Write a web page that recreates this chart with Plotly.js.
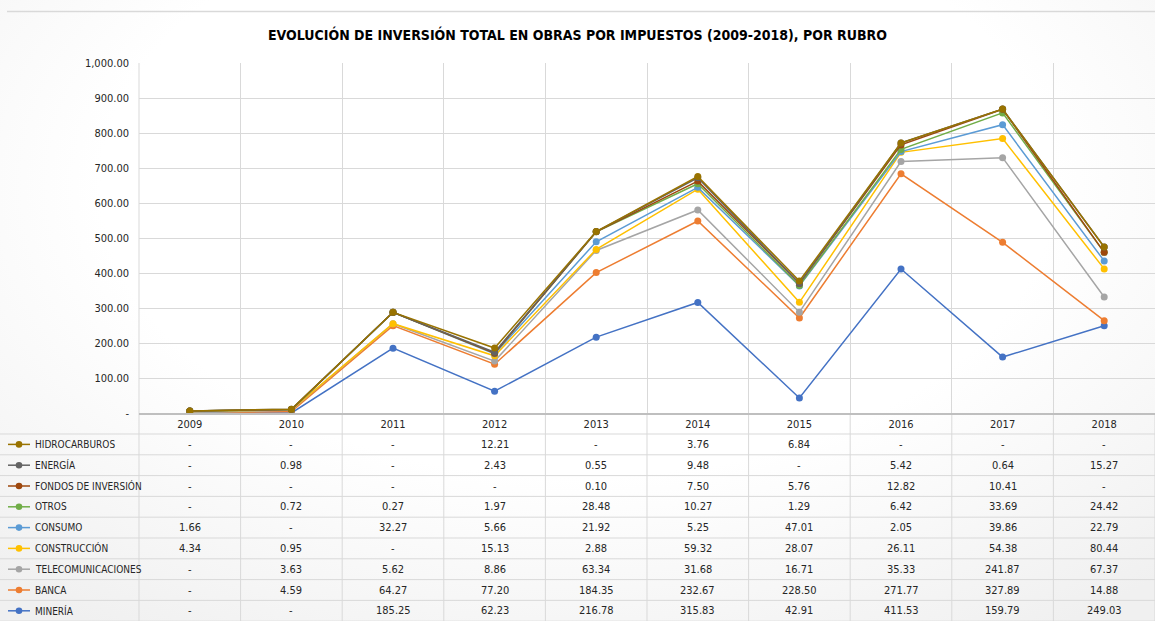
<!DOCTYPE html>
<html>
<head>
<meta charset="utf-8">
<script src="https://cdn.plot.ly/plotly-3.0.1.min.js"></script>
<style>
html,body{margin:0;padding:0;background:#fff;}
#chart{width:1155px;height:621px;
  background: radial-gradient(ellipse 75% 85% at 50% 30%, #ffffff 55%, #f0f0f0 100%);}
</style>
</head>
<body>
<div id="chart"></div>
<script>
// ---- DATA ----
const years = ['2009','2010','2011','2012','2013','2014','2015','2016','2017','2018'];
const hidrocarburos = [0, 0, 0, 12.21, 0, 3.76, 6.84, 0, 0, 0];
const energia       = [0, 0.98, 0, 2.43, 0.55, 9.48, 0, 5.42, 0.64, 15.27];
const fondos        = [0, 0, 0, 0, 0.10, 7.50, 5.76, 12.82, 10.41, 0];
const otros         = [0, 0.72, 0.27, 1.97, 28.48, 10.27, 1.29, 6.42, 33.69, 24.42];
const consumo       = [1.66, 0, 32.27, 5.66, 21.92, 5.25, 47.01, 2.05, 39.86, 22.79];
const construccion  = [4.34, 0.95, 0, 15.13, 2.88, 59.32, 28.07, 26.11, 54.38, 80.44];
const telecom       = [0, 3.63, 5.62, 8.86, 63.34, 31.68, 16.71, 35.33, 241.87, 67.37];
const banca         = [0, 4.59, 64.27, 77.20, 184.35, 232.67, 228.50, 271.77, 327.89, 14.88];
const mineria       = [0, 0, 185.25, 62.23, 216.78, 315.83, 42.91, 411.53, 159.79, 249.03];
const seriesNames = ['HIDROCARBUROS','ENERGÍA','FONDOS DE INVERSIÓN','OTROS','CONSUMO','CONSTRUCCIÓN','TELECOMUNICACIONES','BANCA','MINERÍA'];
const yTickVals = [0,100,200,300,400,500,600,700,800,900,1000];
const yTickText = ['-','100.00','200.00','300.00','400.00','500.00','600.00','700.00','800.00','900.00','1,000.00'];
const titleText = 'EVOLUCIÓN DE INVERSIÓN TOTAL EN OBRAS POR IMPUESTOS (2009-2018), POR RUBRO';

// ---- STYLE ----
const seriesData = [hidrocarburos, energia, fondos, otros, consumo, construccion, telecom, banca, mineria];
const colors = ['#997300','#636363','#9E480E','#70AD47','#5B9BD5','#FFC000','#A5A5A5','#ED7D31','#4472C4'];
const FONT = '"DejaVu Sans Condensed", "Liberation Sans Narrow", sans-serif';
const W = 1155, H = 621;
const mL = 139, mR = 0, mT = 63, mB = 208;
const plotW = W - mL - mR, plotH = H - mT - mB;
const px2x = p => (p - mL) / plotW;
const py2y = p => (H - mB - p) / plotH;
const rowTop = 434, rowH = 20.8;
const gridCol = '#d9d9d9';
const txtCol = '#262626';

// traces: bottom of the stack first (Minería), top last (Hidrocarburos)
const traces = [];
for (let k = seriesData.length - 1; k >= 0; k--) {
  traces.push({
    type: 'scatter', mode: 'lines+markers',
    x: years, y: seriesData[k], name: seriesNames[k],
    stackgroup: 'one', fill: 'none',
    line: {color: colors[k], width: 1.5},
    marker: {color: colors[k], size: 7},
    showlegend: false, hoverinfo: 'x+y+name'
  });
}

const shapes = [];
const annotations = [];
// thin frame line at top
shapes.push({type:'line', xref:'paper', yref:'paper', x0: px2x(7), x1: 1, y0: py2y(11.5), y1: py2y(11.5),
  line:{color:gridCol, width:1.5}, layer:'below'});
for (let r = 0; r <= seriesNames.length; r++) {
  const py = rowTop + r * rowH;
  shapes.push({type:'line', xref:'paper', yref:'paper', x0: px2x(0), x1: 1, y0: py2y(py), y1: py2y(py),
    line:{color:gridCol, width:1}, layer:'below'});
}
for (let i = 0; i <= years.length; i++) {
  shapes.push({type:'line', xref:'paper', yref:'paper', x0: i / years.length, x1: i / years.length,
    y0: 0, y1: py2y(H), line:{color:gridCol, width:1}, layer:'below'});
}
shapes.push({type:'line', xref:'paper', yref:'paper', x0:0, x1:0, y0:0, y1:1, line:{color:gridCol, width:1}, layer:'below'});

seriesNames.forEach((nm, r) => {
  const cy = py2y(rowTop + (r + 0.5) * rowH);
  shapes.push({type:'line', xref:'paper', yref:'paper', x0: px2x(8), x1: px2x(30), y0: cy, y1: cy,
    line:{color:colors[r], width:1.5}});
  shapes.push({type:'circle', xref:'paper', yref:'paper', xsizemode:'pixel', ysizemode:'pixel',
    xanchor: px2x(19), yanchor: cy, x0:-3.3, x1:3.3, y0:-3.3, y1:3.3,
    fillcolor: colors[r], line:{color:colors[r], width:0}});
  annotations.push({xref:'paper', yref:'paper', x: px2x(33), y: cy, xanchor:'left', yanchor:'middle',
    text: nm, showarrow:false, font:{family:FONT, size:10, color:txtCol}});
  seriesData[r].forEach((v, i) => {
    annotations.push({xref:'paper', yref:'paper', x: (i + 0.5) / years.length, y: cy, xanchor:'center', yanchor:'middle',
      text: v === 0 ? '-' : v.toFixed(2), showarrow:false, font:{family:FONT, size:11, color:txtCol}});
  });
});

const layout = {
  width: W, height: H,
  margin: {l: mL, r: mR, t: mT, b: mB},
  paper_bgcolor: 'rgba(0,0,0,0)', plot_bgcolor: 'rgba(0,0,0,0)',
  title: {text: '<b>' + titleText + '</b>', x: 0.5, xanchor:'center', y: 1 - 35 / H, yanchor:'middle',
    font: {family: FONT, size: 14, color: '#000000'}},
  xaxis: {type:'category', range:[-0.5, years.length - 0.5], tickson:'boundaries', ticks:'',
    showgrid:true, gridcolor:gridCol, gridwidth:1, showline:true, linecolor:'#bfbfbf', linewidth:1.5,
    zeroline:false, fixedrange:true, tickfont:{family:FONT, size:11, color:txtCol}},
  yaxis: {range:[0, 1000], tickvals: yTickVals, ticktext: yTickText, ticks:'',
    showgrid:true, gridcolor:gridCol, gridwidth:1, zeroline:false, showline:false, fixedrange:true,
    tickfont:{family:FONT, size:11, color:txtCol}, ticklabelstandoff: 9},
  shapes: shapes,
  annotations: annotations,
  showlegend: false,
  hovermode: 'closest'
};

Plotly.newPlot('chart', traces, layout, {displayModeBar:false});
</script>
</body>
</html>
